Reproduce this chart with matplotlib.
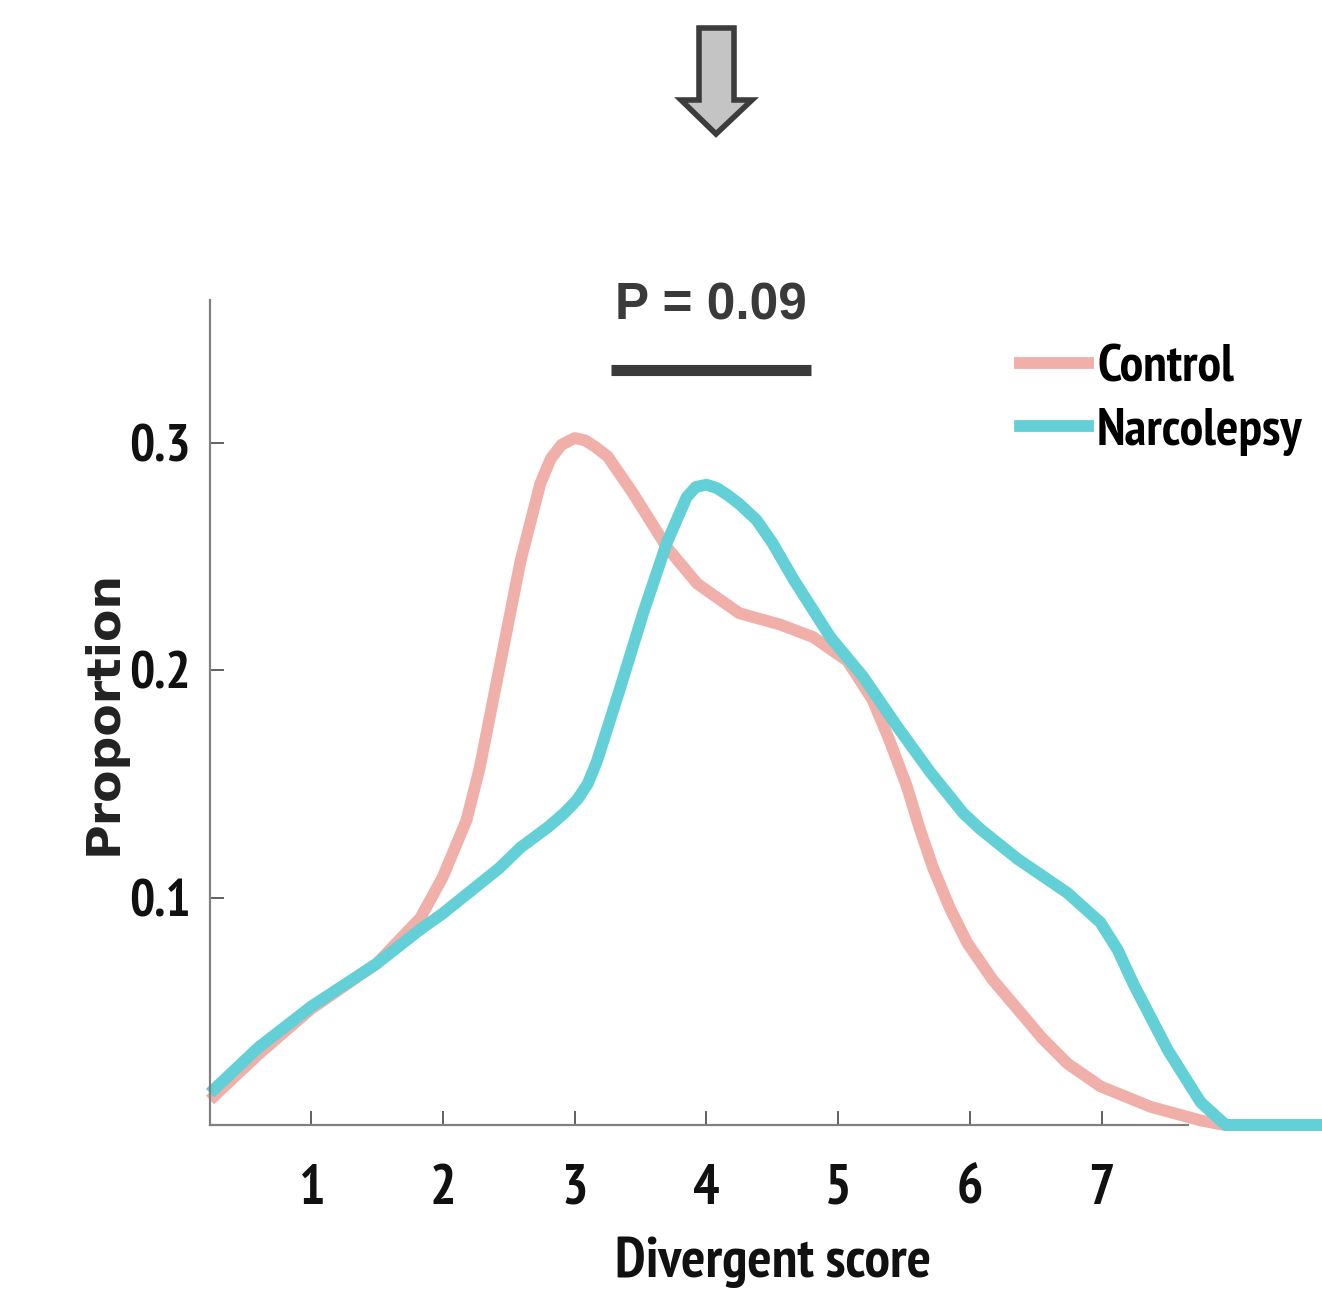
import matplotlib
matplotlib.use("Agg")
import matplotlib.pyplot as plt
from matplotlib import font_manager
from matplotlib.patches import Polygon
from matplotlib.lines import Line2D

# ---------------- data ----------------
control_x = [0.234, 0.6, 1.0, 1.5, 1.83, 2.0, 2.18, 2.28, 2.43, 2.59, 2.74, 2.82, 2.90, 3.0,
             3.08, 3.16, 3.25, 3.44, 3.70, 3.93, 4.25, 4.56, 4.81, 5.07, 5.26, 5.39, 5.52,
             5.62, 5.72, 5.85, 5.98, 6.17, 6.36, 6.55, 6.74, 6.99, 7.37, 7.75, 7.93, 8.70]
control_y = [0.011, 0.031, 0.051, 0.071, 0.091, 0.109, 0.134, 0.157, 0.201, 0.248, 0.282, 0.293,
             0.299, 0.302, 0.301, 0.298, 0.294, 0.278, 0.254, 0.238, 0.225, 0.220, 0.2145, 0.204,
             0.187, 0.169, 0.149, 0.130, 0.113, 0.095, 0.080, 0.064, 0.051, 0.038, 0.027, 0.017,
             0.008, 0.002, 0.0, 0.0]

narco_x = [0.234, 0.6, 1.0, 1.5, 1.83, 2.0, 2.43, 2.59, 2.80, 2.92, 3.02, 3.10, 3.17, 3.34,
           3.52, 3.70, 3.85, 3.92, 4.0, 4.08, 4.16, 4.25, 4.38, 4.50, 4.66, 4.94, 5.19, 5.45,
           5.70, 5.95, 6.08, 6.36, 6.74, 6.99, 7.12, 7.24, 7.50, 7.75, 7.94, 8.70]
narco_y = [0.014, 0.034, 0.052, 0.071, 0.086, 0.093, 0.113, 0.122, 0.131, 0.137, 0.143, 0.150,
           0.160, 0.191, 0.225, 0.256, 0.276, 0.2805, 0.2815, 0.280, 0.277, 0.273, 0.266, 0.256,
           0.240, 0.2145, 0.197, 0.175, 0.155, 0.137, 0.130, 0.117, 0.102, 0.089, 0.077, 0.062,
           0.033, 0.010, 0.0, 0.0]

series_names = ["Control", "Narcolepsy"]
series_colors = ["#F0AFA8", "#62D0D6"]

x_ticks = [1, 2, 3, 4, 5, 6, 7]
y_ticks = [0.1, 0.2, 0.3]
y_tick_labels = ["0.1", "0.2", "0.3"]
x_label = "Divergent score"
y_label = "Proportion"
p_text = "P = 0.09"
p_bar = [3.28, 4.79]
p_bar_y = 0.332
p_text_y = 0.354

# ---------------- fonts ----------------
ttf = font_manager.fontManager.ttflist
bold_fams = {f.name for f in ttf if isinstance(f.weight, int) and f.weight >= 600
             or f.weight in ("bold", "heavy", "black", "semibold", "demibold")}
cands = ["Liberation Sans Narrow", "Arial Narrow", "PT Sans Narrow", "Roboto Condensed",
         "Archivo Narrow", "Fira Sans Condensed", "IBM Plex Sans Condensed",
         "Barlow Semi Condensed", "Asap Condensed", "Encode Sans Condensed"]
narrow_fam = [f for f in cands if f in bold_fams][:1] + ["DejaVu Sans"]
avail = {f.name for f in ttf}
arial_fam = [f for f in ["Arimo", "Liberation Sans"] if f in avail] + ["DejaVu Sans"]

W, H = 1322, 1297
fig = plt.figure(figsize=(W / 100, H / 100), dpi=100)
ax = fig.add_axes([210 / W, 1 - 1125 / H, (1188 - 210) / W, (1125 - 300) / H])

for xs, ys, c in [(control_x, control_y, series_colors[0]), (narco_x, narco_y, series_colors[1])]:
    ax.plot(xs, ys, color=c, lw=8.5, clip_on=False, solid_capstyle="butt",
            solid_joinstyle="round")

ax.set_xlim(0.234, 7.654)
ax.set_ylim(0, 0.3627)

for s in ["top", "right"]:
    ax.spines[s].set_visible(False)
for s in ["left", "bottom"]:
    ax.spines[s].set_color("#808080")
    ax.spines[s].set_linewidth(1.6)

ax.set_xticks(x_ticks)
ax.set_xticklabels([str(t) for t in x_ticks])
ax.set_yticks(y_ticks)
ax.set_yticklabels(y_tick_labels)
ax.tick_params(axis="both", direction="in", length=10, width=1.3, color="#555555")
ax.tick_params(axis="x", pad=28)
ax.tick_params(axis="y", pad=14)
for lab in ax.get_xticklabels():
    lab.set_fontsize(40)
for lab in ax.get_yticklabels():
    lab.set_fontsize(38)
for lab in ax.get_xticklabels() + ax.get_yticklabels():
    lab.set_fontfamily(narrow_fam)
    lab.set_fontweight("bold")
    lab.set_color("#111111")

ax.set_xlabel(x_label, fontsize=41, color="#111111", family=narrow_fam, weight="bold")
ax.xaxis.set_label_coords((773 - 210) / (1188 - 210), -0.135)
ax.set_ylabel(y_label, fontsize=34, labelpad=2, family="DejaVu Sans", weight="bold",
              color="#222222")

# P-value bar and text
ax.plot(p_bar, [p_bar_y, p_bar_y], color="#3a3a3a", lw=8, solid_capstyle="butt")
ax.text(sum(p_bar) / 2, p_text_y, p_text, ha="center", va="baseline", fontsize=37,
        family=arial_fam, weight="bold", color="#3a3a3a")

# legend
handles = [Line2D([], [], color=c, lw=8.5) for c in series_colors]
fig.legend(handles, series_names, loc="upper left",
           bbox_to_anchor=(1020 / W, 1 - 344 / H), bbox_transform=fig.transFigure,
           frameon=False, borderpad=0, borderaxespad=0, handlelength=1.29,
           handletextpad=0.17, labelspacing=0.3,
           prop=font_manager.FontProperties(family=narrow_fam, weight="bold", size=38))

# decorative arrow at the top
pts_px = [(699, 28), (734, 28), (734, 100), (752, 100), (716, 134), (681, 100), (699, 100)]
arrow = Polygon([(x / W, 1 - y / H) for x, y in pts_px], closed=True,
                transform=fig.transFigure, facecolor="#C4C4C4", edgecolor="#3c3c3c",
                lw=4, joinstyle="miter")
fig.patches.append(arrow)

fig.savefig("out.png", dpi=100)
